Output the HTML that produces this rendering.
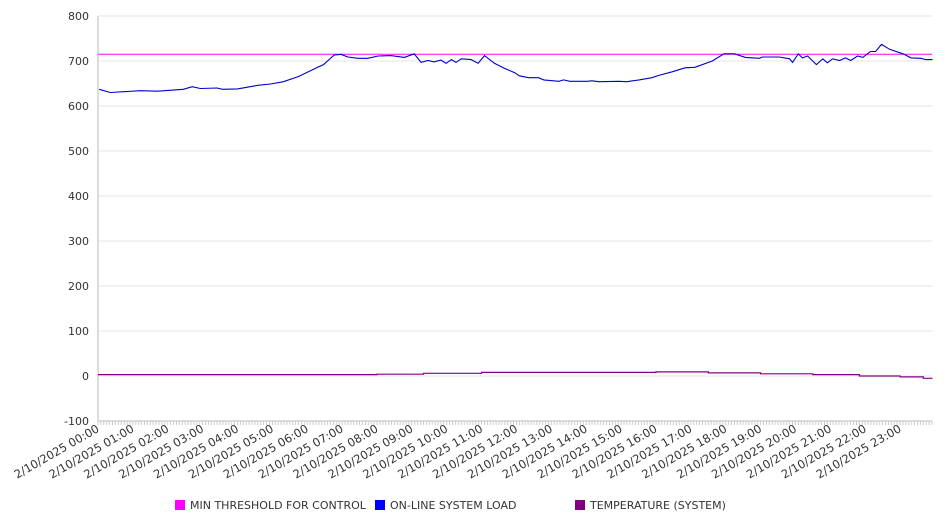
<!DOCTYPE html>
<html><head><meta charset="utf-8"><style>
body{margin:0;background:#fff;}
svg{display:block;font-family:"DejaVu Sans","Liberation Sans",sans-serif;}
</style></head><body>
<svg id="chart" width="946" height="526"></svg>
<script>
const loadMinutes=[2,21,73,102,147,162,176,205,214,240,262,275,297,319,344,354,378,388,406,418,430,447,464,482,504,527,544,556,568,578,590,599,608,616,625,642,654,665,682,699,717,725,741,758,767,793,801,812,841,850,862,896,910,931,953,965,988,1010,1027,1057,1077,1095,1114,1138,1143,1172,1190,1195,1205,1212,1221,1236,1247,1255,1264,1276,1286,1295,1307,1316,1329,1338,1348,1362,1385,1399,1416,1424,1436];
const loadValues=[637,630,634,633,637,643,639,640,637,638,643,646,649,654,665,671,686,692,713,715,709,706,706,711,712,708,716,697,701,698,702,695,703,697,705,703,695,712,695,684,674,667,663,663,658,655,658,655,655,656,654,655,654,658,663,668,676,685,686,700,716,716,708,706,709,709,705,697,716,707,711,692,705,696,705,701,707,701,711,708,721,721,737,726,716,707,706,703,703];
const tempMinutes=[0,480,560,660,960,1050,1140,1230,1310,1380,1420];
const tempValues=[3,4,6,8,9,7,5,3,0,-2,-5];
const thresholdValue=715;
const yTicks=[800,700,600,500,400,300,200,100,0,-100];
const hourLabels=["00:00","01:00","02:00","03:00","04:00","05:00","06:00","07:00","08:00","09:00","10:00","11:00","12:00","13:00","14:00","15:00","16:00","17:00","18:00","19:00","20:00","21:00","22:00","23:00"];
const legendItems=[["MIN THRESHOLD FOR CONTROL","#ff00ff"],["ON-LINE SYSTEM LOAD","#0000ff"],["TEMPERATURE (SYSTEM)","#800080"]];

const NS="http://www.w3.org/2000/svg";
const svg=document.getElementById('chart');
const X0=98,X1=932,Y0=16,Y1=421;
const xs=m=>X0+m*0.5812;
const ys=v=>Y0+(800-v)*(Y1-Y0)/900;
function mk(t,a,p){const e=document.createElementNS(NS,t);for(const k in a)e.setAttribute(k,a[k]);(p||svg).appendChild(e);return e;}

yTicks.forEach(v=>{
  const g=mk('line',{x1:X0,x2:X1,y1:ys(v),y2:ys(v),stroke:'#e6e6e6','stroke-width':1});
  
  
  const t=mk('text',{x:89,y:ys(v)+4,'text-anchor':'end','font-size':11,fill:'#333'});
  t.textContent=v;
  
  
});
const ax=mk('line',{x1:X0,x2:X0,y1:Y0,y2:Y1,stroke:'#bbb'});


const bx=mk('line',{x1:X0,x2:X1,y1:Y1,y2:Y1,stroke:'#bbb'});


let tp='';
for(let m=0;m<=1435;m+=5){const x=xs(m).toFixed(1);tp+=`M${x} ${Y1}v4`;}
const tk=mk('path',{d:tp,stroke:'#ccc','stroke-width':1});


hourLabels.forEach((h,i)=>{
  const x=xs(i*60)+2,y=Y1+10;
  const t=mk('text',{x:x,y:y,'text-anchor':'end','font-size':11.5,fill:'#333',transform:`rotate(-30 ${x} ${y})`});
  t.textContent='2/10/2025 '+h;
  
  
});
const th=mk('line',{x1:X0,x2:X1,y1:ys(thresholdValue),y2:ys(thresholdValue),stroke:'#ff00ff','stroke-width':1});


const lp=mk('polyline',{points:loadMinutes.map((m,i)=>xs(m).toFixed(1)+','+ys(loadValues[i]).toFixed(1)).join(' '),fill:'none',stroke:'#0000cc','stroke-width':1.1});


let tpts=[];
tempMinutes.forEach((m,i)=>{
  const end=i<tempMinutes.length-1?tempMinutes[i+1]:1436;
  tpts.push(xs(m).toFixed(1)+','+ys(tempValues[i]).toFixed(1));
  tpts.push(xs(end).toFixed(1)+','+ys(tempValues[i]).toFixed(1));
});
const tl=mk('polyline',{points:tpts.join(' '),fill:'none',stroke:'#800080','stroke-width':1.2});


const lx=[175,375,575];
legendItems.forEach((it,i)=>{
  const g=mk('g',{});
  
  
  mk('rect',{x:lx[i],y:500,width:10,height:10,fill:it[1]},g);
  const t=mk('text',{x:lx[i]+15,y:509,'font-size':11,fill:'#333'},g);
  t.textContent=it[0];
});
</script>
</body></html>
